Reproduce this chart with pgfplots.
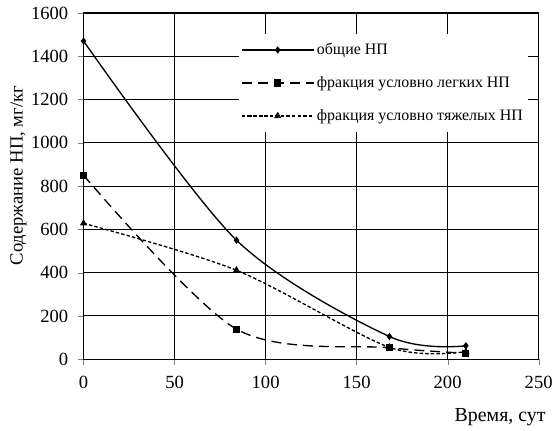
\documentclass[border=0pt]{standalone}
\usepackage{fontspec}
\setmainfont{Liberation Serif}
\usepackage{pgfplots}
\pgfplotsset{compat=1.18}

\begin{document}
\begin{tikzpicture}
  \begin{axis}[
    width=343pt, height=261pt,
    scale only axis,
    xmin=0, xmax=250, ymin=0, ymax=1600,
    xtick={0,50,...,250},
    ytick={0,200,...,1600},
    xmajorgrids, ymajorgrids,
    grid style={draw=black, line width=0.8pt},
    tick align=outside,
    xtick pos=left, ytick pos=left,
    major tick length=4pt,
    axis line style={line width=1pt},
    /pgf/number format/assume math mode=true,
    /pgf/number format/1000 sep={},
    tick label style={font=\fontsize{14}{16}\selectfont},
    xticklabel style={yshift=-5pt},
    yticklabel style={xshift=-4pt},
    ylabel={Содержание НП, мг/кг},
    ylabel style={font=\fontsize{14}{16}\selectfont,
      at={(axis description cs:-0.143,0.53)}, anchor=center},
    xlabel={Время, сут},
    xlabel style={font=\fontsize{15}{17}\selectfont,
      at={(axis description cs:1.0256,-0.18)}, anchor=base east},
    legend cell align=left,
    legend style={draw=none, fill=white, font=\fontsize{12}{14}\selectfont,
      at={(axis description cs:0.34,0.94)}, anchor=north west,
      row sep=11pt, inner xsep=2pt, inner ysep=5pt},
    legend image code/.code={
      \draw[mark repeat=2,mark phase=2] plot coordinates {(0cm,0cm) (0.95cm,0cm) (1.9cm,0cm)};},
  ]
  \addplot[black, line width=1pt, smooth, mark=diamond*, mark size=2pt,
    mark options={solid}] coordinates {
    (0,1470) (84,550) (168,105) (210,62)
  };
  \addlegendentry{общие НП}
  \addplot[black, line width=1pt, smooth, dash pattern=on 7.5pt off 4.5pt,
    mark=square*, mark size=2.2pt, mark options={solid}] coordinates {
    (0,850) (84,139) (168,53) (210,28)
  };
  \addlegendentry{фракция условно легких НП}
  \addplot[black, line width=1pt, smooth, dash pattern=on 2.6pt off 1.6pt,
    mark=triangle*, mark size=2.2pt, mark options={solid}] coordinates {
    (0,628) (84,411) (168,55) (210,35)
  };
  \addlegendentry{фракция условно тяжелых НП}
  \end{axis}
  % page margins as in the reference
  \path ([shift={(-63pt,-50.25pt)}]current axis.south west)
    rectangle ([shift={(12pt,9.75pt)}]current axis.north east);
\end{tikzpicture}
\end{document}
